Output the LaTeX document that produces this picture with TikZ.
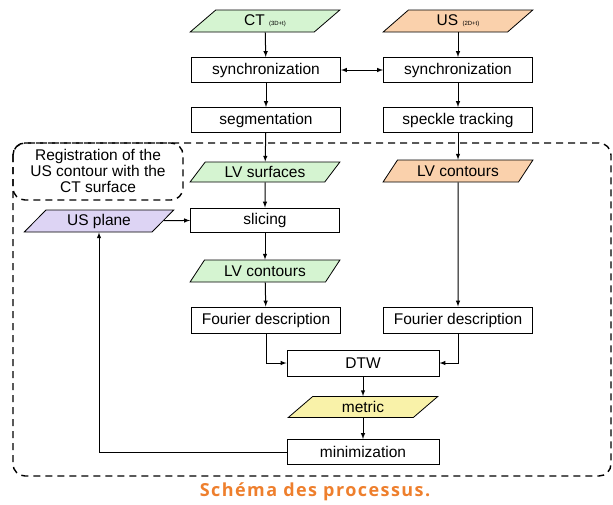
\documentclass[tikz,border=0pt]{standalone}
\usepackage{fontspec}
\setmainfont{Liberation Sans}
\newfontfamily\capfont[LetterSpace=8]{Open Sans}
\usetikzlibrary{shapes.geometric}

\definecolor{ctgreen}{HTML}{D5F4D1}
\definecolor{usorange}{HTML}{FAD1AC}
\definecolor{planepurple}{HTML}{DDD4F4}
\definecolor{metricyellow}{HTML}{F9F2A9}
\definecolor{capcolor}{HTML}{EE7F2D}

\tikzset{
	proc/.style={draw, line width=1pt, fill=white, minimum width=149pt, minimum height=25pt, inner sep=0pt},
	data/.style={draw, line width=0.8pt, trapezium, trapezium left angle=48, trapezium right angle=132,
		trapezium stretches=true, minimum width=150pt, minimum height=22pt, inner sep=0pt},
	region/.style={line width=1.4pt, dash pattern=on 7pt off 5pt, rounded corners=12pt}
}

\begin{document}
\begin{tikzpicture}[x=1pt, y=-1pt, >=latex, font=\fontsize{15.5}{16}\selectfont]
		\useasboundingbox (0,0) rectangle (613,504);
		\draw[region] (13,143) rectangle (611,476);
		\draw[region] (13,143) rectangle (183,200);
		\node[align=center] (reg) at (98,171) {Registration of the\\US contour with the\\CT surface};

		\node[data, fill=ctgreen] (ct) at (265,21) {CT {\fontsize{6}{7}\selectfont(3D+t)}};
		\node[data, fill=usorange] (us) at (458,21) {US {\fontsize{6}{7}\selectfont(2D+t)}};
		\node[proc] (synca) at (266,70) {synchronization};
		\node[proc] (syncb) at (458,70) {synchronization};
		\node[proc] (seg) at (266,120) {segmentation};
		\node[proc] (speck) at (458,120) {speckle tracking};
		\node[data, fill=ctgreen, minimum height=20pt] (lvsurf) at (265,172) {LV surfaces};
		\node[data, fill=usorange] (lvcontb) at (458,171) {LV contours};
		\node[proc, minimum height=24pt] (slice) at (265,220) {slicing};
		\node[data, fill=planepurple] (plane) at (99,221) {US plane};
		\node[data, fill=ctgreen] (lvconta) at (265,271) {LV contours};
		\node[proc, minimum height=26pt] (foura) at (266,320) {Fourier description};
		\node[proc, minimum height=26pt] (fourb) at (458,320) {Fourier description};
		\node[proc, minimum width=152pt, minimum height=26pt] (dtw) at (363,363) {DTW};
		\node[data, fill=metricyellow, minimum height=21pt] (metric) at (363,407) {metric};
		\node[proc, minimum width=152pt] (mini) at (363,452) {minimization};

		\draw[line width=1pt,->] (ct) -- (synca);
		\draw[line width=1pt,->] (us) -- (syncb);
		\draw[line width=1pt,<->] (synca) -- (syncb);
		\draw[line width=1pt,->] (synca) -- (seg);
		\draw[line width=1pt,->] (syncb) -- (speck);
		\draw[line width=1pt,->] (seg) -- (lvsurf);
		\draw[line width=1pt,->] (speck) -- (lvcontb);
		\draw[line width=1pt,->] (lvsurf) -- (slice);
		\draw[line width=1pt,->] (plane) -- (slice);
		\draw[line width=1pt,->] (slice) -- (lvconta);
		\draw[line width=1pt,->] (lvconta) -- (foura);
		\draw[line width=1pt,->] (lvcontb) -- (fourb);
		\draw[line width=1pt,->] (foura) |- (dtw);
		\draw[line width=1pt,->] (fourb) |- (dtw);
		\draw[line width=1pt,->] (dtw) -- (metric);
		\draw[line width=1pt,->] (metric) -- (mini);
		\draw[line width=1pt,->] (mini) -| (plane);

		\node[text=capcolor, font=\capfont\bfseries\fontsize{18}{20}\selectfont] (cap) at (315,492) {Schéma des processus.};
	\end{tikzpicture}
\end{document}
